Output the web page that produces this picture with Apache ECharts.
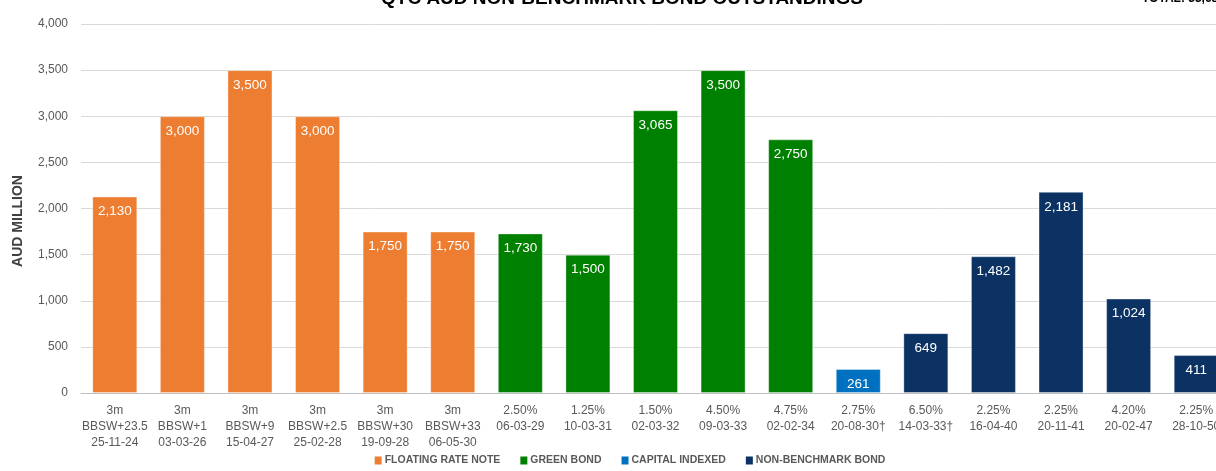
<!DOCTYPE html>
<html>
<head>
<meta charset="utf-8">
<script src="https://cdn.jsdelivr.net/npm/echarts@6/dist/echarts.min.js"></script>
<style>
html,body{margin:0;padding:0;background:#fff;overflow:hidden;width:1216px;height:471px;}
#chart{position:absolute;left:0;top:-14px;width:1260px;height:485px;}
</style>
</head>
<body>
<div id="chart"></div>
<script>
const categories = [
  "3m\nBBSW+23.5\n25-11-24", "3m\nBBSW+1\n03-03-26", "3m\nBBSW+9\n15-04-27", "3m\nBBSW+2.5\n25-02-28",
  "3m\nBBSW+30\n19-09-28", "3m\nBBSW+33\n06-05-30",
  "2.50%\n06-03-29", "1.25%\n10-03-31", "1.50%\n02-03-32", "4.50%\n09-03-33", "4.75%\n02-02-34",
  "2.75%\n20-08-30†",
  "6.50%\n14-03-33†", "2.25%\n16-04-40", "2.25%\n20-11-41", "4.20%\n20-02-47", "2.25%\n28-10-50"
];
const floatingRateNote = [2130, 3000, 3500, 3000, 1750, 1750, null, null, null, null, null, null, null, null, null, null, null];
const greenBond        = [null, null, null, null, null, null, 1730, 1500, 3065, 3500, 2750, null, null, null, null, null, null];
const capitalIndexed   = [null, null, null, null, null, null, null, null, null, null, null, 261, null, null, null, null, null];
const nonBenchmarkBond = [null, null, null, null, null, null, null, null, null, null, null, null, 649, 1482, 2181, 1024, 411];
const seriesNames = ["FLOATING RATE NOTE", "GREEN BOND", "CAPITAL INDEXED", "NON-BENCHMARK BOND"];
const seriesColors = ["#ED7D31", "#008000", "#0070C0", "#0B3263"];
const yTicks = { min: 0, max: 4000, interval: 500 };
const titleText = "QTC AUD NON-BENCHMARK BOND OUTSTANDINGS";
const totalText = "TOTAL: 33,683";

const FONT = "'Liberation Sans', Arial, sans-serif";
const fmt = v => v.toLocaleString('en-US');

const chart = echarts.init(document.getElementById('chart'), null, { renderer: 'canvas' });
const allData = [floatingRateNote, greenBond, capitalIndexed, nonBenchmarkBond];

const series = allData.map((d, i) => ({
  name: seriesNames[i],
  type: 'bar',
  stack: 'total',
  barWidth: 45,
  data: d.map(v => v == null ? '-' : v),
  itemStyle: { color: seriesColors[i], borderColor: 'rgba(255,255,255,0.35)', borderWidth: 1 },
  label: {
    show: true, position: 'insideTop', distance: 8,
    color: '#fff', fontFamily: FONT, fontSize: 13.5,
    formatter: p => fmt(p.value)
  },
  emphasis: { disabled: true }
}));

chart.setOption({
  animation: false,
  backgroundColor: '#fff',
  title: [
    { text: titleText, left: 622, top: 3, textAlign: 'center', padding: 0,
      textStyle: { fontFamily: FONT, fontWeight: 'bold', fontSize: 19, color: '#000' } },
    { text: totalText, left: 1142, top: 7, padding: 0,
      textStyle: { fontFamily: FONT, fontWeight: 'bold', fontSize: 12, color: '#000' } }
  ],
  legend: {
    data: seriesNames.map((n, i) => ({ name: n, itemStyle: { color: seriesColors[i], borderWidth: 0 } })),
    bottom: 0, left: 'center',
    itemWidth: 7, itemHeight: 8, itemGap: 20,
    icon: 'rect',
    textStyle: { fontFamily: FONT, fontWeight: 'bold', fontSize: 10.5, color: '#595959', padding: [0, 0, 0, -2] },
    selectedMode: false
  },
  grid: { left: 81, right: 30, top: 38, bottom: 78, containLabel: false },
  xAxis: {
    type: 'category', data: categories,
    axisLine: { show: true, lineStyle: { color: '#BFBFBF', width: 1 } },
    axisTick: { show: false },
    axisLabel: { interval: 0, margin: 10, fontFamily: FONT, fontSize: 12, color: '#595959', lineHeight: 16, verticalAlign: 'top' }
  },
  yAxis: {
    type: 'value', min: yTicks.min, max: yTicks.max, interval: yTicks.interval,
    axisLine: { show: false }, axisTick: { show: false },
    splitLine: { lineStyle: { color: '#D9D9D9', width: 1 } },
    axisLabel: { margin: 13, fontFamily: FONT, fontSize: 12, color: '#595959', formatter: v => fmt(v) }
  },
  graphic: [
    { type: 'text', x: 18, y: 235, rotation: Math.PI / 2,
      style: { text: 'AUD MILLION', font: "bold 14px " + FONT, fill: '#404040', align: 'center', verticalAlign: 'middle' } }
  ],
  series: series
});
</script>
</body>
</html>
